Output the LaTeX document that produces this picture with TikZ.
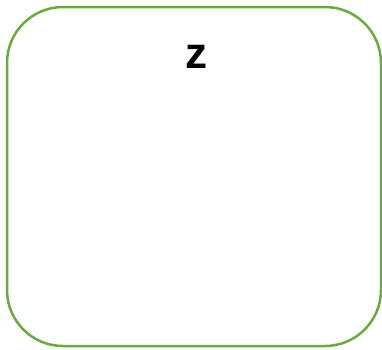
\documentclass[tikz,border=0pt]{standalone}
\usepackage{fontspec}
\setmainfont{Liberation Sans}
\usetikzlibrary{positioning}
\definecolor{boxgreen}{HTML}{6AAB3F}

\begin{document}
\begin{tikzpicture}[
    x=1pt, y=-1pt,
    line join=round,
    line cap=round
]

    % Page frame
    \useasboundingbox (0, 0) rectangle (382, 349);

    % Rounded box
    \node[draw=boxgreen, line width=2.5pt, rounded corners=56pt,
          minimum width=374pt, minimum height=339pt, inner sep=0pt]
          (box) at (194, 176.5) {};

    % Label
    \node[anchor=base, inner sep=0pt, font=\bfseries\fontsize{44}{44}\selectfont]
          (zlabel) at (196, 68) {z};

\end{tikzpicture}
\end{document}
